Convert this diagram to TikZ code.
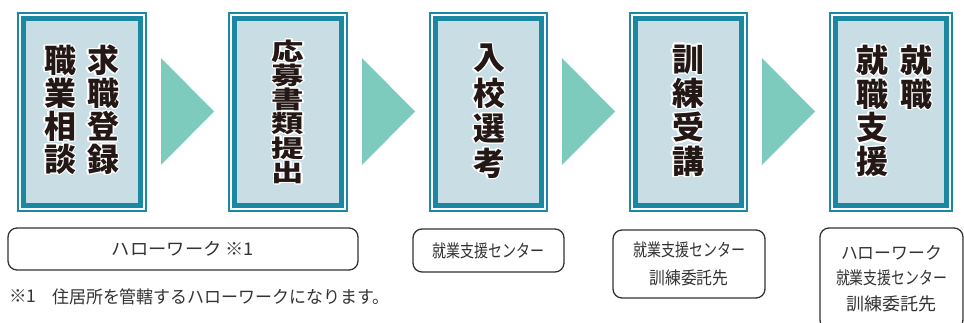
\documentclass[tikz,border=0pt]{standalone}
\usepackage{fontspec}
\usepackage{graphicx}
\usepackage[copies]{contour}
\contourlength{1.3pt}
\newfontfamily\jp{Noto Sans CJK JP}
\definecolor{tealc}{HTML}{1A87A3}
\definecolor{boxfill}{HTML}{C9DDE5}
\definecolor{arrowc}{HTML}{7DCBBC}
\definecolor{inkc}{HTML}{231815}
\definecolor{linec}{HTML}{333333}
\tikzset{
  stepbox/.style={draw=tealc, line width=4.4pt, fill=boxfill, outer sep=0pt, inner sep=0pt},
  outerline/.style={draw=tealc, line width=2pt},
  bigch/.style={font=\jp\bfseries\fontsize{32}{32}\selectfont, inner sep=0pt, text=inkc},
  tri/.style={fill=arrowc},
  infobox/.style={draw=linec, line width=1.3pt, rounded corners=9pt, inner sep=0pt, outer sep=0pt, align=center, text=linec},
  small/.style={font=\jp\fontsize{17.5}{17.5}\selectfont, text=linec, inner sep=0pt},
}
\newcommand\hc[1]{\contour{white}{#1}}
\begin{document}
\begin{tikzpicture}[x=1pt,y=1pt]
\path[use as bounding box, clip] (0,0) rectangle (964,-323);
\fill[white] (0,0) rectangle (964,-323);
% step boxes
\node[stepbox, minimum width=117pt, minimum height=187pt] (s1) at (82,-112) {};
\node[stepbox, minimum width=107pt, minimum height=187pt] (s2) at (288,-112) {};
\node[stepbox, minimum width=106pt, minimum height=187pt] (s3) at (488.5,-112) {};
\node[stepbox, minimum width=106pt, minimum height=187pt] (s4) at (688.5,-112) {};
\node[stepbox, minimum width=111pt, minimum height=187pt] (s5) at (891,-112) {};
\foreach \s in {s1,s2,s3,s4,s5}
  \draw[outerline] ([shift={(-5.2,5.2)}]\s.north west) rectangle ([shift={(5.2,-5.2)}]\s.south east);
% box 1
\foreach \c [count=\i] in {求,職,登,録}
  \node[bigch] (b1r\i) at (103,{-61-(\i-1)*33}) {\hc{\c}};
\foreach \c [count=\i] in {職,業,相,談}
  \node[bigch] (b1l\i) at (60,{-61-(\i-1)*33}) {\hc{\c}};
% box 2
\foreach \c [count=\i] in {応,募,書,類,提,出}
  \node[bigch, font=\jp\bfseries\fontsize{30}{30}\selectfont, xscale=1.08, yscale=0.8, transform shape] (b2\i) at (288,{-51.5-(\i-1)*24.3}) {\hc{\c}};
% box 3
\foreach \c [count=\i] in {入,校,選,考}
  \node[bigch] (b3\i) at (489,{-59-(\i-1)*35}) {\hc{\c}};
% box 4
\foreach \c [count=\i] in {訓,練,受,講}
  \node[bigch] (b4\i) at (688,{-60-(\i-1)*34}) {\hc{\c}};
% box 5
\foreach \c [count=\i] in {就,職,支,援}
  \node[bigch] (b5l\i) at (872,{-61-(\i-1)*33.7}) {\hc{\c}};
\foreach \c [count=\i] in {就,職}
  \node[bigch] (b5r\i) at (916,{-61-(\i-1)*33.7}) {\hc{\c}};
% arrows
\foreach \x [count=\i] in {161,362,562,762}{
  \coordinate (t\i a) at (\x,-58);
  \coordinate (t\i b) at (\x+53,-111.5);
  \coordinate (t\i c) at (\x,-165);
  \fill[tri] (t\i a) -- (t\i b) -- (t\i c) -- cycle;
}
% info boxes
\node[infobox, minimum width=350pt, minimum height=42pt, font=\jp\fontsize{17.5}{17.5}\selectfont] (ia) at (183,-249)
  {\resizebox{142pt}{\height}{ハローワーク ※1}};
\node[infobox, minimum width=151pt, minimum height=43pt, font=\jp\fontsize{17.5}{17.5}\selectfont] (ib) at (488.5,-250.5)
  {\resizebox{112pt}{\height}{就業支援センター}};
\node[infobox, minimum width=152pt, minimum height=68pt, font=\jp\fontsize{17.5}{28}\selectfont] (ic) at (689,-264)
  {\resizebox{112pt}{\height}{就業支援センター}\\\resizebox{79pt}{\height}{訓練委託先}};
\node[infobox, minimum width=143pt, minimum height=101pt, font=\jp\fontsize{17.5}{25.5}\selectfont] (id) at (891.5,-278.5)
  {\resizebox{101pt}{\height}{ハローワーク}\\\resizebox{111pt}{\height}{就業支援センター}\\\resizebox{90pt}{\height}{訓練委託先}};
% footnote
\node[small, anchor=west] (fn1) at (9,-296.5) {※1};
\node[small, anchor=west] (fn2) at (52,-296.5) {\resizebox{337pt}{\height}{住居所を管轄するハローワークになります。}};
\end{tikzpicture}
\end{document}
